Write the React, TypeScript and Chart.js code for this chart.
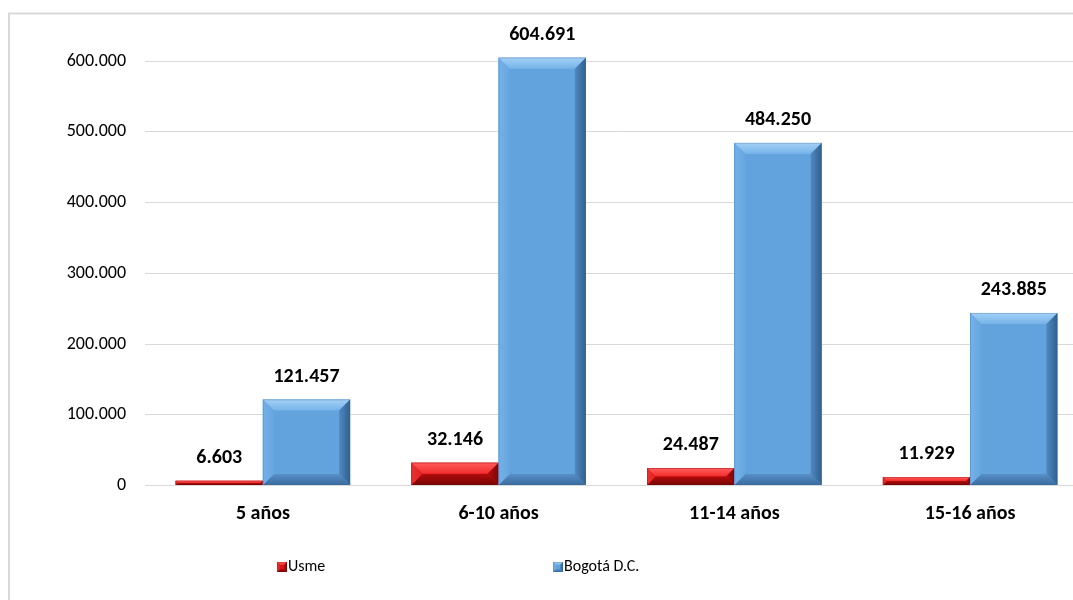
import React, { useEffect, useRef } from "react";
import { Chart, registerables } from "chart.js";

Chart.register(...registerables);

const categories: string[] = ["5 años", "6-10 años", "11-14 años", "15-16 años"];
const seriesNames: string[] = ["Usme", "Bogotá D.C."];
const usmeValues: number[] = [6603, 32146, 24487, 11929];
const bogotaValues: number[] = [121457, 604691, 484250, 243885];
const yTickValues: number[] = [0, 100000, 200000, 300000, 400000, 500000, 600000];

const FONT = "Carlito, Lato, 'Open Sans', sans-serif";

type Palette = {
  face: string;
  top: [string, string];
  left: [string, string];
  right: [string, string];
  bottom: [string, string];
  edge: string;
};

const RED: Palette = {
  face: "#DA1418",
  top: ["#FF5C5C", "#F22C2C"],
  left: ["#EA3434", "#E01E1E"],
  right: ["#7E0505", "#B40E0E"],
  bottom: ["#780404", "#B00C0C"],
  edge: "#7A0505",
};
const BLUE: Palette = {
  face: "#62A3DE",
  top: ["#A2D0F6", "#76B3E9"],
  left: ["#74B1E8", "#66A6E0"],
  right: ["#30608F", "#5089C1"],
  bottom: ["#3A6B9E", "#5890C8"],
  edge: "#3A6A98",
};
const palettes = [RED, BLUE];

function fmt(v: number): string {
  return String(Math.round(v)).replace(/\B(?=(\d{3})+(?!\d))/g, ".");
}

function poly(
  ctx: CanvasRenderingContext2D,
  pts: number[][],
  colors: [string, string],
  g: [number, number, number, number]
) {
  const grad = ctx.createLinearGradient(g[0], g[1], g[2], g[3]);
  grad.addColorStop(0, colors[0]);
  grad.addColorStop(1, colors[1]);
  ctx.beginPath();
  ctx.moveTo(pts[0][0], pts[0][1]);
  for (let i = 1; i < pts.length; i++) ctx.lineTo(pts[i][0], pts[i][1]);
  ctx.closePath();
  ctx.fillStyle = grad;
  ctx.fill();
}

function drawBevel(
  ctx: CanvasRenderingContext2D,
  l: number,
  t: number,
  r: number,
  bt: number,
  p: Palette,
  maxB: number
) {
  const h = bt - t;
  const w = r - l;
  if (h <= 0 || w <= 0) return;
  const b = Math.max(0, Math.min(maxB, h / 2, w / 2));
  ctx.save();
  ctx.fillStyle = p.face;
  ctx.fillRect(l, t, w, h);
  if (b > 0.5) {
    poly(ctx, [[l, t], [r, t], [r - b, t + b], [l + b, t + b]], p.top, [0, t, 0, t + b]);
    poly(ctx, [[l, bt], [r, bt], [r - b, bt - b], [l + b, bt - b]], p.bottom, [0, bt, 0, bt - b]);
    poly(ctx, [[l, t], [l + b, t + b], [l + b, bt - b], [l, bt]], p.left, [l, 0, l + b, 0]);
    poly(ctx, [[r, t], [r - b, t + b], [r - b, bt - b], [r, bt]], p.right, [r, 0, r - b, 0]);
  }
  ctx.strokeStyle = p.edge;
  ctx.globalAlpha = 0.35;
  ctx.lineWidth = 0.8;
  ctx.strokeRect(l + 0.4, t + 0.4, w - 0.8, h - 0.8);
  ctx.restore();
}

const framePlugin = {
  id: "frame",
  beforeDraw(chart: any) {
    const ctx = chart.ctx as CanvasRenderingContext2D;
    ctx.save();
    ctx.fillStyle = "#FFFFFF";
    ctx.fillRect(0, 0, chart.width, chart.height);
    ctx.strokeStyle = "#D9D9D9";
    ctx.lineWidth = 2;
    ctx.beginPath();
    ctx.moveTo(9, chart.height);
    ctx.lineTo(9, 13.5);
    ctx.lineTo(chart.width, 13.5);
    ctx.stroke();
    ctx.restore();
  },
};

const bevelPlugin = {
  id: "bevelBars",
  afterDatasetsDraw(chart: any) {
    const ctx = chart.ctx as CanvasRenderingContext2D;
    chart.data.datasets.forEach((ds: any, di: number) => {
      const meta = chart.getDatasetMeta(di);
      meta.data.forEach((el: any, i: number) => {
        const { x, y, base, width } = el.getProps(["x", "y", "base", "width"], true);
        drawBevel(ctx, x - width / 2, y, x + width / 2, base, palettes[di], 11);
        ctx.save();
        ctx.font = `bold 20px ${FONT}`;
        ctx.fillStyle = "#000000";
        ctx.textAlign = "center";
        ctx.textBaseline = "alphabetic";
        ctx.fillText(fmt(ds.data[i]), x, y - 18);
        ctx.restore();
      });
    });
    // legend
    const items = [
      { x: 277, label: seriesNames[0], p: RED },
      { x: 553, label: seriesNames[1], p: BLUE },
    ];
    const ly = 567;
    items.forEach((it) => {
      drawBevel(ctx, it.x, ly - 5, it.x + 10, ly + 5, it.p, 3);
      ctx.save();
      ctx.font = `16px ${FONT}`;
      ctx.fillStyle = "#000000";
      ctx.textAlign = "left";
      ctx.textBaseline = "middle";
      ctx.fillText(it.label, it.x + 11, ly);
      ctx.restore();
    });
  },
};

export default function App() {
  const ref = useRef<HTMLCanvasElement | null>(null);
  useEffect(() => {
    if (!ref.current) return;
    const chart = new Chart(ref.current, {
      type: "bar",
      data: {
        labels: categories,
        datasets: [
          {
            label: seriesNames[0],
            data: usmeValues,
            backgroundColor: RED.face,
            categoryPercentage: 0.74,
            barPercentage: 1,
            clip: false as any,
          },
          {
            label: seriesNames[1],
            data: bogotaValues,
            backgroundColor: BLUE.face,
            categoryPercentage: 0.74,
            barPercentage: 1,
            clip: false as any,
          },
        ],
      },
      options: {
        responsive: false,
        animation: false,
        devicePixelRatio: 1,
        layout: { padding: { top: 61, right: 2, left: 0, bottom: 0 } },
        plugins: {
          legend: { display: false },
          tooltip: { enabled: false },
        },
        scales: {
          x: {
            grid: { display: false, drawTicks: false },
            border: { display: false },
            ticks: {
              color: "#000000",
              font: { family: FONT, size: 20, weight: "bold" },
              padding: 16,
            },
            afterFit(scale: any) {
              scale.height = 114.5;
            },
          },
          y: {
            min: 0,
            max: 600000,
            grid: { color: "#D9D9D9", lineWidth: 1, drawTicks: false },
            border: { display: false },
            afterBuildTicks(scale: any) {
              scale.ticks = yTickValues.map((v) => ({ value: v }));
            },
            ticks: {
              color: "#000000",
              font: { family: FONT, size: 18 },
              padding: 19,
              callback: (v: any) => fmt(Number(v)),
            },
            afterFit(scale: any) {
              scale.width = 145;
            },
          },
        },
      },
      plugins: [framePlugin, bevelPlugin],
    });
    return () => chart.destroy();
  }, []);
  return (
    <div
      style={{
        position: "fixed",
        left: 0,
        top: 0,
        width: 1073,
        height: 600,
        overflow: "hidden",
        background: "#FFFFFF",
      }}
    >
      <canvas ref={ref} width={1090} height={600} style={{ display: "block", width: 1090, height: 600 }} />
    </div>
  );
}
